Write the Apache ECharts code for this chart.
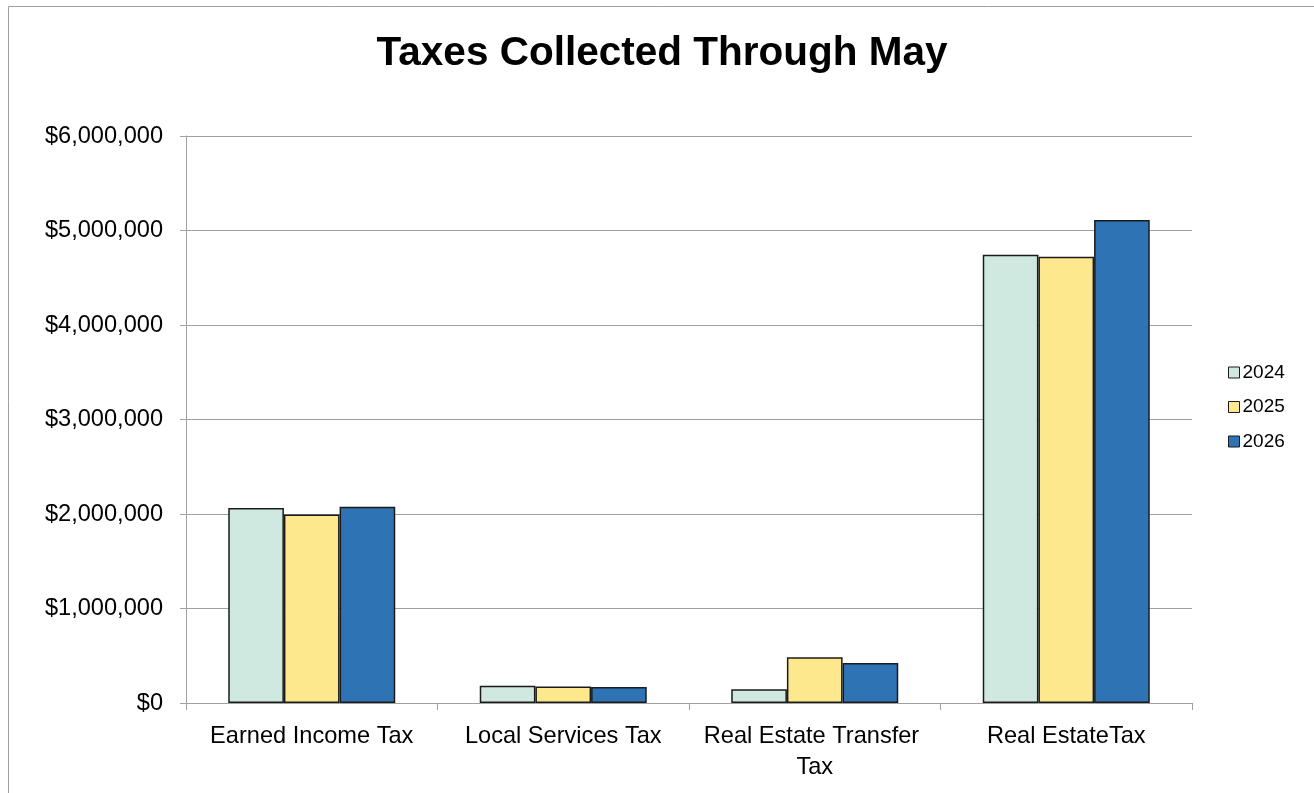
<!DOCTYPE html>
<html>
<head>
<meta charset="utf-8">
<title>Taxes Collected Through May</title>
<script src="https://cdn.jsdelivr.net/npm/echarts@6/dist/echarts.min.js"></script>
<style>
  html, body { margin: 0; padding: 0; background: #ffffff; }
  #chart { width: 1314px; height: 793px; }
</style>
</head>
<body>
<div id="chart"></div>
<script>
// Tax categories and collections per year (USD)
const categories = ['Earned Income Tax', 'Local Services Tax', 'Real Estate Transfer Tax', 'Real EstateTax'];
const years = ['2024', '2025', '2026'];
const values2024 = [2063000, 183000, 145000, 4744000];
const values2025 = [1996000, 175000, 483000, 4723000];
const values2026 = [2077000, 168000, 423000, 5111000];
const yTicks = [0, 1000000, 2000000, 3000000, 4000000, 5000000, 6000000];

const seriesValues = [values2024, values2025, values2026];
const colors = ['#cfe9e1', '#fee88e', '#2e74b5'];
const font = '"Liberation Sans", Arial, sans-serif';

function money(v) {
  return '$' + Math.round(v).toString().replace(/\B(?=(\d{3})+(?!\d))/g, ',');
}

const chart = echarts.init(document.getElementById('chart'), null, { renderer: 'canvas' });

chart.setOption({
  animation: false,
  backgroundColor: '#ffffff',
  textStyle: { fontFamily: font },
  graphic: [
    {
      type: 'rect',
      silent: true,
      shape: { x: 8.5, y: 6.5, width: 1320, height: 800 },
      style: { fill: 'none', stroke: '#a0a0a0', lineWidth: 1 }
    },
    {
      type: 'text',
      silent: true,
      x: 662,
      y: 33,
      style: {
        text: 'Taxes Collected Through May',
        font: 'bold 40.5px ' + font,
        fill: '#000000',
        align: 'center',
        verticalAlign: 'top'
      }
    }
  ],
  legend: {
    orient: 'vertical',
    left: 1223,
    top: 358,
    itemWidth: 11,
    itemHeight: 11,
    itemGap: 15.5,
    icon: 'rect',
    data: years,
    textStyle: { fontSize: 19, lineHeight: 19, color: '#000000', padding: [0, 0, 0, -2] },
    itemStyle: { borderColor: '#1b1b1b', borderWidth: 1 }
  },
  grid: {
    left: 186,
    right: 122,
    top: 136,
    bottom: 90,
    containLabel: false
  },
  xAxis: {
    type: 'category',
    data: categories,
    axisLine: { show: true, lineStyle: { color: '#a0a0a0', width: 1 } },
    axisTick: { show: true, alignWithLabel: false, length: 7, lineStyle: { color: '#a0a0a0' } },
    axisLabel: {
      interval: 0,
      margin: 18,
      fontSize: 23.6,
      lineHeight: 31,
      color: '#000000',
      width: 225,
      overflow: 'break',
      align: 'center'
    },
    splitLine: { show: false }
  },
  yAxis: {
    type: 'value',
    min: yTicks[0],
    max: yTicks[yTicks.length - 1],
    interval: yTicks[1] - yTicks[0],
    axisLine: { show: true, lineStyle: { color: '#a0a0a0', width: 1 } },
    axisTick: { show: true, length: 6, lineStyle: { color: '#a0a0a0' } },
    axisLabel: {
      margin: 23,
      fontSize: 23.6,
      color: '#000000',
      formatter: money
    },
    splitLine: { show: true, lineStyle: { color: '#a0a0a0', width: 1 } }
  },
  series: years.map((y, i) => ({
    name: y,
    type: 'bar',
    data: seriesValues[i],
    barGap: '0%',
    barCategoryGap: '33.6%',
    itemStyle: {
      color: colors[i],
      borderColor: '#1b1b1b',
      borderWidth: 1.5
    }
  }))
});
</script>
</body>
</html>
